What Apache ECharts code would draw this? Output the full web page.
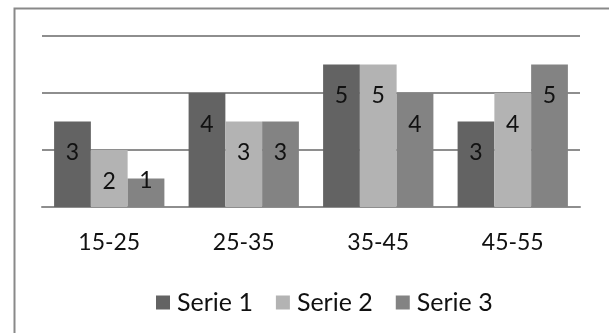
<!DOCTYPE html>
<html>
<head>
<meta charset="utf-8">
<script src="https://cdn.jsdelivr.net/npm/echarts@6/dist/echarts.min.js"></script>
<style>
  html, body { margin: 0; padding: 0; background: #ffffff; }
  #chart { width: 609px; height: 333px; }
</style>
</head>
<body>
<div id="chart"></div>
<script>
// Age groups and the three series plotted per group
const categories = ['15-25', '25-35', '35-45', '45-55'];
const serie1 = [3, 4, 5, 3];
const serie2 = [2, 3, 5, 4];
const serie3 = [1, 3, 4, 5];
const seriesNames = ['Serie 1', 'Serie 2', 'Serie 3'];
const seriesColors = ['#636363', '#b3b3b3', '#838383'];

const FONT = 'Lato';
const gridColor = '#8e8e8e';

// Labels sit inside the top of each bar; very short bars get theirs lifted
function toData(values) {
  return values.map(v => v < 2
    ? { value: v, label: { offset: [0, -29] } }
    : { value: v });
}

const chart = echarts.init(document.getElementById('chart'), null, { renderer: 'canvas' });

chart.setOption({
  animation: false,
  backgroundColor: '#ffffff',
  textStyle: { fontFamily: FONT },
  graphic: [{
    type: 'rect',
    left: 12, top: 6,
    shape: { width: 640, height: 360 },
    style: { fill: 'none', stroke: '#898989', lineWidth: 2 },
    silent: true, z: 100
  }],
  grid: { left: 42, right: 29, top: 36, bottom: 126 },
  legend: {
    data: seriesNames,
    left: 151, top: 285,
    icon: 'rect',
    itemWidth: 14, itemHeight: 14,
    itemGap: 23,
    textStyle: { fontFamily: FONT, fontSize: 25, color: '#111111', padding: [0, 0, 0, 2] }
  },
  xAxis: {
    type: 'category',
    data: categories,
    axisLine: { show: true, lineStyle: { color: gridColor, width: 2 } },
    axisTick: { show: false },
    axisLabel: { fontFamily: FONT, fontSize: 23, color: '#111111', margin: 24 }
  },
  yAxis: {
    type: 'value',
    min: 0, max: 6, interval: 2,
    axisLabel: { show: false },
    axisLine: { show: false },
    axisTick: { show: false },
    splitLine: { show: true, lineStyle: { color: gridColor, width: 2 } }
  },
  series: [serie1, serie2, serie3].map((vals, i) => ({
    name: seriesNames[i],
    type: 'bar',
    data: toData(vals),
    itemStyle: { color: seriesColors[i] },
    barGap: '0%',
    barCategoryGap: '18%',
    label: {
      show: true,
      position: 'insideTop',
      distance: 20,
      fontFamily: FONT,
      fontSize: 23,
      color: '#111111'
    }
  }))
});
</script>
</body>
</html>
